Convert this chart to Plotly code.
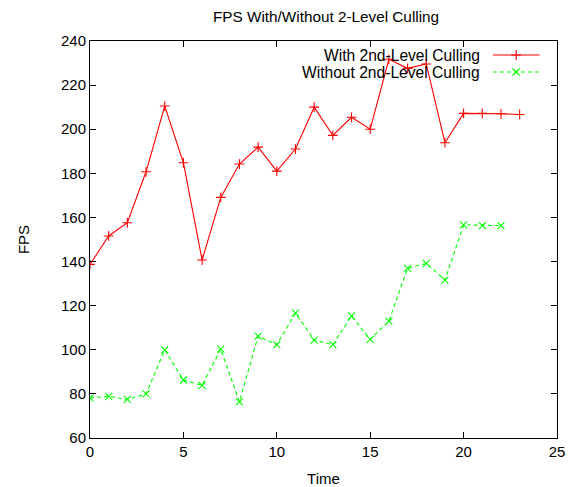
import plotly.graph_objects as go

time = list(range(24))
with_culling = [138.7, 151.6, 157.6, 180.7, 210.5, 184.8, 140.7, 169.1, 184.2, 191.9,
                181.0, 191.0, 210.0, 197.2, 205.4, 200.0, 231.7, 227.6, 229.6, 193.9,
                207.2, 207.2, 207.0, 206.7]
time_wo = list(range(23))
without_culling = [78.2, 78.9, 77.5, 80.0, 99.9, 86.3, 83.9, 100.3, 76.4, 106.2,
                   102.3, 116.6, 104.4, 102.3, 115.3, 104.7, 113.0, 136.9, 139.2, 131.6,
                   156.6, 156.3, 156.3]
series_names = ["With 2nd-Level Culling", "Without 2nd-Level Culling"]

font = "Liberation Sans, Arial, sans-serif"
fsize = 15
key_fsize = 15.6
red, green = "#ff0000", "#00ff00"
msize = 7
green_dash = "4px,3px"

fig = go.Figure()
fig.add_trace(go.Scatter(
    x=time, y=with_culling, mode="lines+markers", name=series_names[0], showlegend=False,
    line=dict(color=red, width=1.1),
    marker=dict(symbol="cross-thin-open", size=msize, color=red, line=dict(width=1.1, color=red)),
))
fig.add_trace(go.Scatter(
    x=time_wo, y=without_culling, mode="lines+markers", name=series_names[1], showlegend=False,
    line=dict(color=green, width=1.1, dash=green_dash),
    marker=dict(symbol="x-thin-open", size=msize, color=green, line=dict(width=1.1, color=green)),
))

# gnuplot-style key: text right-aligned, sample to the right
key_y = [0.9647, 0.9219]
key_text_x = 0.8393
key_line = (0.8627, 0.9626)
key_mark_x = 0.9126
styles = [(red, "solid", "cross-thin-open"), (green, green_dash, "x-thin-open")]
for name, ky, (col, dash, sym) in zip(series_names, key_y, styles):
    fig.add_annotation(text=name, xref="x domain", yref="y domain", x=key_text_x, y=ky,
                       xanchor="right", yanchor="middle", showarrow=False,
                       font=dict(family=font, size=key_fsize, color="black"))
    fig.add_shape(type="line", xref="x domain", yref="y domain", x0=key_line[0], x1=key_line[1],
                  y0=ky, y1=ky, line=dict(color=col, width=1.1, dash=dash))
    fig.add_trace(go.Scatter(x=[key_mark_x], y=[ky], xaxis="x2", yaxis="y2", mode="markers",
                             showlegend=False, hoverinfo="skip",
                             marker=dict(symbol=sym, size=msize, color=col, line=dict(width=1.1, color=col))))

axis_common = dict(
    showgrid=False, zeroline=False, showline=True, linecolor="black", linewidth=1,
    mirror="ticks", ticks="inside", ticklen=6, tickcolor="black", tickwidth=1,
    tickfont=dict(family=font, size=fsize, color="black"), automargin=False,
)

fig.update_layout(
    width=574, height=487,
    margin=dict(l=90, r=17, t=41, b=49),
    paper_bgcolor="white", plot_bgcolor="white",
    title=dict(text="FPS With/Without 2-Level Culling", x=0.568, xanchor="center",
               y=0.965, yanchor="middle", font=dict(family=font, size=15.3, color="black")),
    xaxis=dict(range=[0, 25], dtick=5, title=dict(text="Time", standoff=14,
               font=dict(family=font, size=fsize, color="black")), **axis_common),
    yaxis=dict(range=[60, 240], dtick=20, title=dict(text="FPS", standoff=27,
               font=dict(family=font, size=fsize, color="black")), **axis_common),
    xaxis2=dict(overlaying="x", range=[0, 1], visible=False, fixedrange=True),
    yaxis2=dict(overlaying="y", range=[0, 1], visible=False, fixedrange=True),
    showlegend=False,
)

fig.write_html("out.html", config={"displayModeBar": False},
               post_script="document.body.style.margin='0';document.body.style.padding='0';")
